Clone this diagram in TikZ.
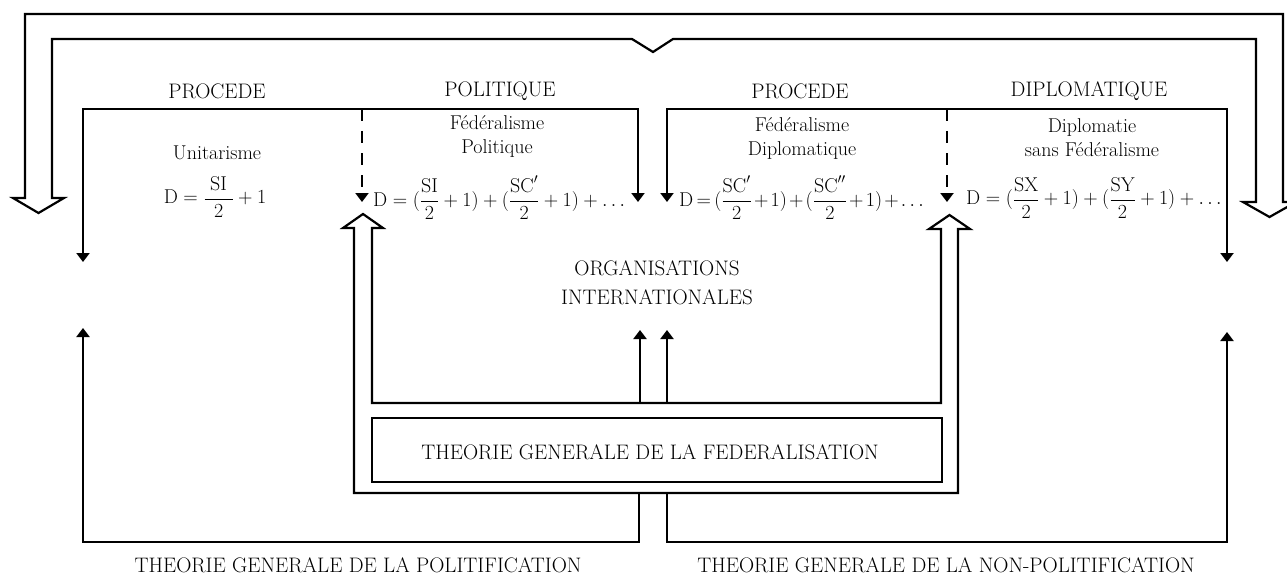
\RequirePackage{fix-cm}
\documentclass[tikz,border=0pt]{standalone}
\usepackage{fontspec}
\usetikzlibrary{arrows.meta}
\tikzset{
  ln/.style={line width=2.2pt, line join=miter, draw=black},
  tipend/.style={-{Triangle[width=13pt,length=9pt]}},
  tipboth/.style={{Triangle[width=13pt,length=9pt]}-{Triangle[width=13pt,length=9pt]}},
  dsh/.style={line width=2.8pt, dash pattern=on 12pt off 10pt},
  capl/.style={inner sep=0pt, font=\fontsize{21}{25}\selectfont},
  lbl/.style={inner sep=0pt, font=\fontsize{20}{24}\selectfont},
  lbl2/.style={inner sep=0pt, align=center, font=\fontsize{20}{24}\selectfont},
}
\begin{document}
\begin{tikzpicture}[x=1pt,y=-1pt]
\useasboundingbox (0,0) rectangle (1287,575);
\fill[white] (0,0) rectangle (1287,575);

% ---- top hollow arrow (one outline)
\draw[ln] (25,198) -- (25,14) -- (1283,14) -- (1283,202) -- (1296,202) -- (1269.5,217)
  -- (1243,202) -- (1256,202) -- (1256,39) -- (673,39) -- (653,52) -- (632,39)
  -- (52,39) -- (52,198) -- (64,198) -- (38.5,213) -- (13,198) -- cycle;

% ---- central hollow U arrow
\draw[ln] (354,228) -- (343,228) -- (363,214) -- (383,228) -- (372,228) -- (372,403)
  -- (941,403) -- (941,229) -- (929,229) -- (949.5,215) -- (970,229) -- (958,229)
  -- (958,493) -- (354,493) -- cycle;

% ---- coordinates
\coordinate (b1L) at (83,109);  \coordinate (b1R) at (638,109);
\coordinate (b1Ld) at (83,262); \coordinate (b1Rd) at (638,202);
\coordinate (d1t) at (362,109); \coordinate (d1b) at (362,202);
\coordinate (b2L) at (667,109); \coordinate (b2R) at (1227,109);
\coordinate (b2Ld) at (667,202); \coordinate (b2Rd) at (1227,262);
\coordinate (d2t) at (947,109); \coordinate (d2b) at (947,202);
\coordinate (s1b) at (640,403); \coordinate (s1t) at (640,330);
\coordinate (s2b) at (667,403); \coordinate (s2t) at (667,330);
\coordinate (l0) at (639,493); \coordinate (l1) at (639,542);
\coordinate (l2) at (83,542);  \coordinate (l3) at (83,328);
\coordinate (r0) at (667,493); \coordinate (r1) at (667,542);
\coordinate (r2) at (1227,542); \coordinate (r3) at (1227,332);

% ---- brackets
\draw[ln,tipboth] (b1Ld) -- (b1L) -- (b1R) -- (b1Rd);
\draw[dsh,tipend] (d1t) -- (d1b);
\draw[ln,tipboth] (b2Ld) -- (b2L) -- (b2R) -- (b2Rd);
\draw[dsh,tipend] (d2t) -- (d2b);

% ---- small up arrows
\draw[ln,tipend] (s1b) -- (s1t);
\draw[ln,tipend] (s2b) -- (s2t);

% ---- bottom returns
\draw[ln,tipend] (l0) -- (l1) -- (l2) -- (l3);
\draw[ln,tipend] (r0) -- (r1) -- (r2) -- (r3);

% ---- box
\node[ln, draw, inner sep=0pt, minimum width=570pt, minimum height=64pt] (fed) at (657,450) {};
\node[capl] (fedt) at (650,452) {THEORIE GENERALE DE LA FEDERALISATION};

% ---- labels
\node[capl] (p1) at (217,91) {PROCEDE};
\node[capl] (p2) at (500,91) {POLITIQUE};
\node[capl] (p3) at (800,91) {PROCEDE};
\node[capl] (p4) at (1089,91) {DIPLOMATIQUE};

\node[lbl] (u) at (217,153) {Unitarisme};
\node[lbl] (f1) at (215,197) {$\displaystyle\mathrm{D}=\frac{\;\mathrm{SI}\;}{2}+1$};

\node[lbl2] (fp) at (497,136) {Fédéralisme\\Politique};
\node[lbl, anchor=west] (f2) at (373,198)
  {$\displaystyle\mathrm{D}=(\frac{\mathrm{SI}}{2}+1)+(\frac{\mathrm{SC}'}{2}+1)+\dots$};

\node[lbl2] (fd) at (802,138) {Fédéralisme\\Diplomatique};
\node[lbl, anchor=west] (f3) at (679,198)
  {$\medmuskip=2mu\thickmuskip=3mu\displaystyle\mathrm{D}=(\frac{\mathrm{SC}'}{2}+1)+(\frac{\mathrm{SC}''}{2}+1)+\dots$};

\node[lbl2] (dsf) at (1092,138) {Diplomatie\\sans Fédéralisme};
\node[lbl, anchor=west] (f4) at (966,198)
  {$\displaystyle\mathrm{D}=(\frac{\mathrm{SX}}{2}+1)+(\frac{\mathrm{SY}}{2}+1)+\dots$};

\node[inner sep=0pt, align=center, font=\fontsize{21}{29}\selectfont] (oi) at (657,283)
  {ORGANISATIONS\\INTERNATIONALES};

\node[capl] (tp) at (358,565) {THEORIE GENERALE DE LA POLITIFICATION};
\node[capl] (tn) at (946,565) {THEORIE GENERALE DE LA NON-POLITIFICATION};
\end{tikzpicture}
\end{document}
